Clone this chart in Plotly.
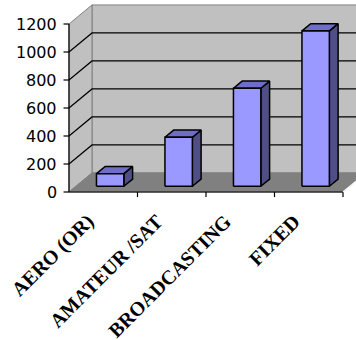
import plotly.graph_objects as go

# Number of assignments per radio service
categories = ["AERO (OR)", "AMATEUR /SAT", "BROADCASTING", "FIXED"]
values = [90, 350, 700, 1110]
y_ticks = [0, 200, 400, 600, 800, 1000, 1200]

# Pseudo-3D box geometry, in axis units
Y_MAX = 1200
DEPTH_X = 0.336      # depth offset along the category axis
DEPTH_Y = 136        # depth offset along the value axis
BAR_W = 0.40
BAR_D0, BAR_D1 = 0.30, 0.68   # front/back of bars as fraction of depth

WALL = "#C0C0C0"
FLOOR = "#808080"
EDGE = "#808080"
FRONT = "#9999FF"
TOP = "#6E6EC8"
SIDE = "#4F4F86"

fig = go.Figure()


def poly(xs, ys, fill, line_color=None, width=1.0):
    fig.add_trace(go.Scatter(
        x=list(xs) + [xs[0]], y=list(ys) + [ys[0]],
        mode="lines", fill="toself", fillcolor=fill,
        line=dict(color=line_color or fill, width=width),
        hoverinfo="skip", showlegend=False))


def seg(xs, ys, color="black", width=1.0):
    fig.add_trace(go.Scatter(x=xs, y=ys, mode="lines",
                             line=dict(color=color, width=width),
                             hoverinfo="skip", showlegend=False))


n = len(categories)
dx, dy = DEPTH_X, DEPTH_Y

# back wall, left wall, floor
poly([dx, n + dx, n + dx, dx], [dy, dy, Y_MAX + dy, Y_MAX + dy], WALL, EDGE)
poly([0, dx, dx, 0], [0, dy, Y_MAX + dy, Y_MAX], WALL, EDGE)
poly([0, n, n + dx, dx], [0, 0, dy, dy], FLOOR, FLOOR)

# gridlines on the walls
for t in y_ticks[1:-1]:
    seg([0, dx, n + dx], [t, t + dy, t + dy], "black", 1.2)

# bars
for i, v in enumerate(values):
    xl = i + 0.5 - BAR_W / 2 + BAR_D0 * dx
    xr = xl + BAR_W
    yb = BAR_D0 * dy
    yt = v + yb
    ddx = (BAR_D1 - BAR_D0) * dx
    ddy = (BAR_D1 - BAR_D0) * dy
    poly([xr, xr + ddx, xr + ddx, xr], [yb, yb + ddy, yt + ddy, yt], SIDE, "black", 1.5)
    poly([xl, xr, xr + ddx, xl + ddx], [yt, yt, yt + ddy, yt + ddy], TOP, "black", 1.5)
    poly([xl, xr, xr, xl], [yb, yb, yt, yt], FRONT, "black", 1.5)

# front axes with tick marks
seg([0, 0], [0, Y_MAX], "black", 1.2)
seg([0, n], [0, 0], "black", 1.2)
for t in y_ticks:
    seg([-0.08, 0], [t, t], "black", 1.2)
for k in range(1, n + 1):
    seg([k, k], [0, -36], "black", 1.2)
seg([n, n + dx * 0.6], [0, dy * 0.6], "white", 1.2)

annotations = []
for t in y_ticks:
    annotations.append(dict(x=-0.15, y=t, text=str(t), showarrow=False,
                            xanchor="right", yanchor="middle",
                            font=dict(family="DejaVu Sans", size=16, color="black")))
for i, c in enumerate(categories):
    annotations.append(dict(x=i + 0.5 - 0.03, y=-110, text="<b>%s</b>" % c, showarrow=False,
                            textangle=-45, xanchor="right", yanchor="top",
                            font=dict(family="Liberation Serif", size=20, color="black")))

fig.update_layout(
    width=356, height=340, margin=dict(l=0, r=0, t=0, b=0),
    paper_bgcolor="white", plot_bgcolor="white",
    xaxis=dict(range=[-69 / 68.5, (356 - 69) / 68.5], visible=False, fixedrange=True),
    yaxis=dict(range=[-148 / 0.14, 192 / 0.14], visible=False, fixedrange=True),
    annotations=annotations,
)

fig.write_html("out.html")
